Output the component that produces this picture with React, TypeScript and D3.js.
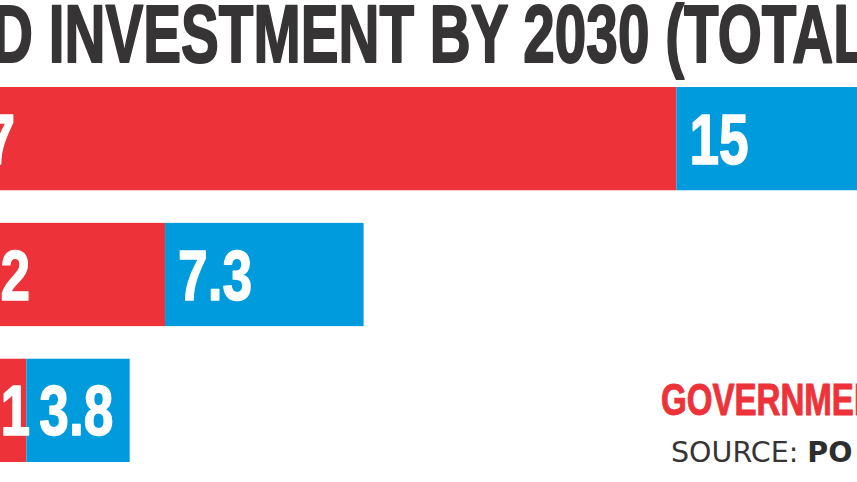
import React from "react";
import * as d3 from "d3";

const categories = ["A", "B", "C"];
const governmentValues = [27, 8.2, 3.1];
const privateValues = [15, 7.3, 3.8];
const titleText = "D INVESTMENT BY 2030 (TOTAL";
const legendLabel = "GOVERNMENT";
const sourceLabel = "SOURCE: ";
const sourceName = "PO";

const W = 857;
const H = 482;
const RED = "#ee3239";
const BLUE = "#009bdc";
const DARK = "#363435";

export default function App() {
  const x = d3.scaleLinear().domain([0, 30]).range([-58, -58 + 30 * 27.2]);
  const y = d3.scaleBand<string>().domain(categories).range([87, 462]).paddingInner(0.24).paddingOuter(0);
  const bw = y.bandwidth();
  const fmt = (v: number) => `${v}`;
  const labelFont = "'Liberation Sans', Arial, sans-serif";

  return (
    <svg width={W} height={H} style={{ position: "absolute", left: 0, top: 0 }} xmlns="http://www.w3.org/2000/svg">
      <rect x={0} y={0} width={W} height={H} fill="#ffffff" />
      <text
        transform={`translate(-8,62) scale(0.70,1)`}
        fontFamily={labelFont}
        fontWeight="bold"
        fontSize={81}
        fill={DARK}
        stroke={DARK}
        strokeWidth={2}
        strokeLinejoin="round"
      >
        {titleText}
      </text>
      {categories.map((c, i) => {
        const g = governmentValues[i];
        const p = privateValues[i];
        const yy = y(c) as number;
        const x0 = x(0);
        const x1 = x(g);
        const x2 = x(g + p);
        const baseline = yy + bw / 2 + 25;
        return (
          <g key={c}>
            <rect x={x0} y={yy} width={x1 - x0} height={bw} fill={RED} />
            <rect x={x1} y={yy} width={x2 - x1} height={bw} fill={BLUE} />
            <text
              transform={`translate(${x0 + 14},${baseline}) scale(0.75,1)`}
              fontFamily={labelFont}
              fontWeight="bold"
              fontSize={71}
              fill="#ffffff"
              stroke="#ffffff"
              strokeWidth={1.5}
              strokeLinejoin="round"
            >
              {fmt(g)}
            </text>
            <text
              transform={`translate(${x1 + 13},${baseline}) scale(0.75,1)`}
              fontFamily={labelFont}
              fontWeight="bold"
              fontSize={71}
              fill="#ffffff"
              stroke="#ffffff"
              strokeWidth={1.5}
              strokeLinejoin="round"
            >
              {fmt(p)}
            </text>
          </g>
        );
      })}
      <text
        transform={`translate(661,415) scale(0.735,1)`}
        fontFamily={labelFont}
        fontWeight="bold"
        fontSize={45}
        fill={RED}
        stroke={RED}
        strokeWidth={1}
        strokeLinejoin="round"
      >
        {legendLabel}
      </text>
      <text x={671} y={462} fontFamily="'DejaVu Sans', Verdana, sans-serif" fontSize={28.5} fill={DARK}>
        {sourceLabel}
        <tspan fontWeight="bold" fill="#2e2e2e">{sourceName}</tspan>
      </text>
    </svg>
  );
}
